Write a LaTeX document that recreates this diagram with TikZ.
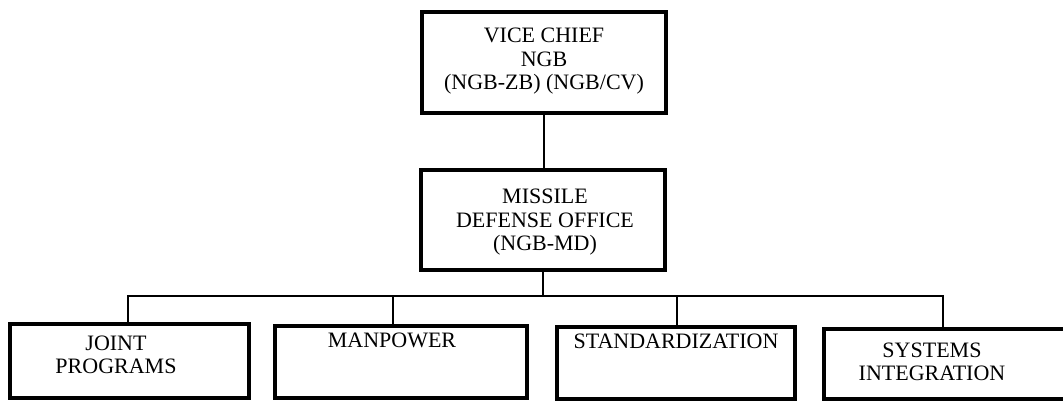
\documentclass[tikz,border=0pt]{standalone}
\usepackage{fontspec}
\setmainfont{Liberation Serif}
\begin{document}
\begin{tikzpicture}[x=1pt,y=-1pt,
  box/.style={draw, line width=4.5pt, rectangle, inner sep=0pt},
  conn/.style={line width=2.2pt},
  lbl/.style={font=\fontsize{22}{24}\selectfont, inner sep=0pt, anchor=base}]
\useasboundingbox (0,0) rectangle (1063,402);
\clip (0,0) rectangle (1063,402);

% boxes
\node[box, minimum width=244pt, minimum height=101pt] (vc) at (544,62.5) {};
\node[box, minimum width=244pt, minimum height=100pt] (md) at (543,220) {};
\node[box, minimum width=239pt, minimum height=74pt] (jp) at (129.5,361) {};
\node[box, minimum width=252pt, minimum height=72pt] (mp) at (401,362) {};
\node[box, minimum width=238pt, minimum height=72pt] (st) at (676,363) {};
\node[box, minimum width=251pt, minimum height=70pt] (si) at (949.5,364) {};

% labels
\node[lbl] (vc1) at (544,42.5) {VICE CHIEF};
\node[lbl] (vc2) at (544,66) {NGB};
\node[lbl] (vc3) at (544,89.5) {(NGB-ZB) (NGB/CV)};
\node[lbl] (md1) at (545,203.5) {MISSILE};
\node[lbl] (md2) at (545,227) {DEFENSE OFFICE};
\node[lbl] (md3) at (545,250.5) {(NGB-MD)};
\node[lbl] (jp1) at (116,350) {JOINT};
\node[lbl] (jp2) at (116,373) {PROGRAMS};
\node[lbl] (mp1) at (392,347) {MANPOWER};
\node[lbl] (st1) at (676,348) {STANDARDIZATION};
\node[lbl] (si1) at (932,357) {SYSTEMS};
\node[lbl] (si2) at (932,380) {INTEGRATION};

% connectors
\coordinate (busL) at (128,296);
\coordinate (busR) at (943,296);
\coordinate (d2) at (393,296);
\coordinate (d3) at (677,296);
\draw[conn] (vc.south) -- (vc.south |- md.north);
\draw[conn] (md.south) -- (md.south |- busL);
\draw[conn, line cap=rect] (busL) -- (busR);
\draw[conn] (busL) -- (busL |- jp.north);
\draw[conn] (d2) -- (d2 |- mp.north);
\draw[conn] (d3) -- (d3 |- st.north);
\draw[conn] (busR) -- (busR |- si.north);
\end{tikzpicture}
\end{document}
